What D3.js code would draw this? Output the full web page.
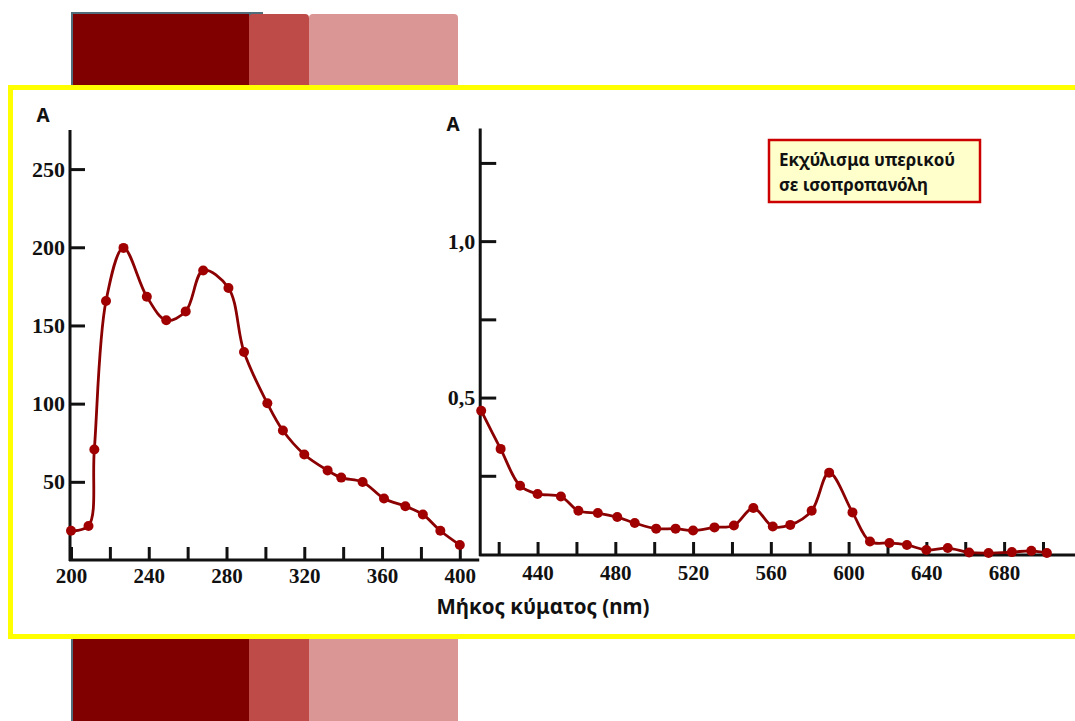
<!DOCTYPE html>
<html><head><meta charset="utf-8">
<script src="https://cdn.jsdelivr.net/npm/d3@7"></script>
<style>
html,body{margin:0;padding:0;background:#fff;}
svg{display:block;}
</style></head>
<body>
<svg id="chart" width="1075" height="721"></svg>
<script>
// ---------- data ----------
const uvWavelength = [200, 209, 212, 218, 227, 239, 249, 259, 268, 281, 289, 301, 309, 320, 332, 339, 350, 361, 372, 381, 390, 400];
const uvAbsorbance = [18.7, 21.8, 70.7, 165.6, 199.6, 168.4, 153.3, 159, 185.2, 174, 133, 100.2, 82.8, 67.5, 57.3, 52.7, 49.9, 39.3, 34.4, 29.1, 18.7, 9.6];
const visWavelength = [411, 421, 431, 440, 452, 461, 471, 481, 490, 501, 511, 520, 531, 541, 551, 561, 570, 581, 590, 602, 611, 621, 630, 640, 651, 662, 672, 684, 694, 702];
const visAbsorbance = [0.458, 0.336, 0.218, 0.192, 0.184, 0.138, 0.131, 0.118, 0.099, 0.081, 0.081, 0.075, 0.085, 0.091, 0.147, 0.088, 0.093, 0.138, 0.26, 0.133, 0.040, 0.035, 0.029, 0.013, 0.019, 0.005, 0.003, 0.006, 0.010, 0.003];
const leftXTicks = [200, 220, 240, 260, 280, 300, 320, 340, 360, 380, 400];
const leftXLabels = [200, 240, 280, 320, 360, 400];
const rightXTicks = [420, 440, 460, 480, 500, 520, 540, 560, 580, 600, 620, 640, 660, 680, 700];
const rightXLabels = [440, 480, 520, 560, 600, 640, 680];
const leftYTicks = [50, 100, 150, 200, 250];
const rightYTicks = [0.25, 0.5, 0.75, 1.0, 1.25];
const rightYLabels = {0.5: "0,5", 1.0: "1,0"};
const axisTitleY = "A";
const axisTitleX = "Μήκος κύματος (nm)";
const legendLines = ["Εκχύλισμα υπερικού", "σε ισοπροπανόλη"];

// ---------- drawing ----------
const svg = d3.select("#chart");
const lineColor = "#8b0000";
const dotColor = "#a00000";

// decorative background blocks
function deco(y, h, roundTop) {
  svg.append("rect").attr("x", 71).attr("y", y - 2).attr("width", 192).attr("height", h + 2).attr("fill", "#4f6d7a");
  svg.append("rect").attr("x", 73).attr("y", y).attr("width", 176).attr("height", h).attr("fill", "#800000");
  svg.append("rect").attr("x", 309).attr("y", y).attr("width", 149).attr("height", h).attr("rx", roundTop ? 4 : 0).attr("fill", "#d99694");
  svg.append("rect").attr("x", 249).attr("y", y).attr("width", 60).attr("height", h).attr("rx", roundTop ? 4 : 0).attr("fill", "#be4b48");
}
deco(14, 90, true);
deco(636, 90, false);

// yellow frame
svg.append("rect").attr("x", 10.5).attr("y", 87.5).attr("width", 1080).attr("height", 549)
  .attr("fill", "#fff").attr("stroke", "#ffff00").attr("stroke-width", 5);

const x = d3.scaleLinear().domain([200, 700]).range([71, 1043]);
const yL = d3.scaleLinear().domain([0, 275]).range([560, 130]);
const yR = d3.scaleLinear().domain([0, 1.36]).range([554, 128.5]);

const serif = "'Liberation Serif','Times New Roman',serif";
const sans = "'Noto Sans','Open Sans',sans-serif";

function styleAxis(g) {
  g.select(".domain").remove();
  g.selectAll(".tick line").attr("stroke", "#111").attr("stroke-width", 3);
  g.selectAll(".tick text").attr("fill", "#111").style("font-family", serif).style("font-weight", "bold").style("font-size", "21px");
}

// left x axis
const gLX = svg.append("g").attr("transform", "translate(0,560)")
  .call(d3.axisBottom(x).tickValues(leftXTicks).tickSizeInner(-13).tickSizeOuter(0).tickPadding(8)
    .tickFormat(d => leftXLabels.includes(d) ? String(d) : ""));
styleAxis(gLX);
svg.append("line").attr("x1", x(200) - 2).attr("x2", x(410)).attr("y1", 560).attr("y2", 560).attr("stroke", "#111").attr("stroke-width", 3);

// right x axis
const gRX = svg.append("g").attr("transform", "translate(0,555)")
  .call(d3.axisBottom(x).tickValues(rightXTicks).tickSizeInner(-13).tickSizeOuter(0).tickPadding(10)
    .tickFormat(d => rightXLabels.includes(d) ? String(d) : ""));
styleAxis(gRX);
svg.append("line").attr("x1", x(410)).attr("x2", 1075).attr("y1", 555).attr("y2", 555).attr("stroke", "#111").attr("stroke-width", 3);

// left y axis
const gLY = svg.append("g").attr("transform", `translate(${x(200) - 1},0)`)
  .call(d3.axisLeft(yL).tickValues(leftYTicks).tickSizeInner(-15).tickSizeOuter(0).tickPadding(5));
styleAxis(gLY);
gLY.selectAll(".tick text").style("font-size", "22px");
svg.append("line").attr("x1", x(200) - 1).attr("x2", x(200) - 1).attr("y1", yL(275)).attr("y2", 561).attr("stroke", "#111").attr("stroke-width", 3);

// right y axis
const gRY = svg.append("g").attr("transform", `translate(${x(410.5)},0)`)
  .call(d3.axisLeft(yR).tickValues(rightYTicks).tickSizeInner(-16).tickSizeOuter(0).tickPadding(5)
    .tickFormat(d => rightYLabels[d] || ""));
styleAxis(gRY);
gRY.selectAll(".tick text").style("font-size", "22px");
svg.append("line").attr("x1", x(410.5)).attr("x2", x(410.5)).attr("y1", yR(1.36)).attr("y2", 556).attr("stroke", "#111").attr("stroke-width", 3);

// axis titles
svg.append("text").attr("x", 43).attr("y", 122).attr("text-anchor", "middle")
  .style("font-family", sans).style("font-weight", "bold").style("font-size", "19px").attr("fill", "#111").text(axisTitleY);
svg.append("text").attr("x", 453).attr("y", 131).attr("text-anchor", "middle")
  .style("font-family", sans).style("font-weight", "bold").style("font-size", "19px").attr("fill", "#111").text(axisTitleY);
svg.append("text").attr("x", 543).attr("y", 614).attr("text-anchor", "middle")
  .style("font-family", sans).style("font-weight", "bold").style("font-size", "20.5px").attr("fill", "#111").text(axisTitleX);

// series
const uv = uvWavelength.map((w, i) => ({w, a: uvAbsorbance[i]}));
const vis = visWavelength.map((w, i) => ({w, a: visAbsorbance[i]}));

const lineL = d3.line().x(d => x(d.w)).y(d => yL(d.a)).curve(d3.curveCatmullRom.alpha(0.5));
const lineR = d3.line().x(d => x(d.w)).y(d => yR(d.a)).curve(d3.curveCatmullRom.alpha(0.5));

svg.append("path").datum(uv).attr("d", lineL).attr("fill", "none").attr("stroke", lineColor).attr("stroke-width", 2.8);
svg.append("path").datum(vis).attr("d", lineR).attr("fill", "none").attr("stroke", lineColor).attr("stroke-width", 2.8);

svg.append("g").selectAll("circle").data(uv).join("circle")
  .attr("cx", d => x(d.w)).attr("cy", d => yL(d.a)).attr("r", 5).attr("fill", dotColor);
svg.append("g").selectAll("circle").data(vis).join("circle")
  .attr("cx", d => x(d.w)).attr("cy", d => yR(d.a)).attr("r", 5).attr("fill", dotColor);

// legend box
svg.append("rect").attr("x", 769).attr("y", 140).attr("width", 211).attr("height", 62)
  .attr("fill", "#ffffcc").attr("stroke", "#cc0000").attr("stroke-width", 2.5);
legendLines.forEach((t, i) => {
  svg.append("text").attr("x", 779).attr("y", 166 + i * 25)
    .style("font-family", sans).style("font-weight", "bold").style("font-size", "17px").attr("fill", "#111").text(t);
});
</script>
</body></html>
